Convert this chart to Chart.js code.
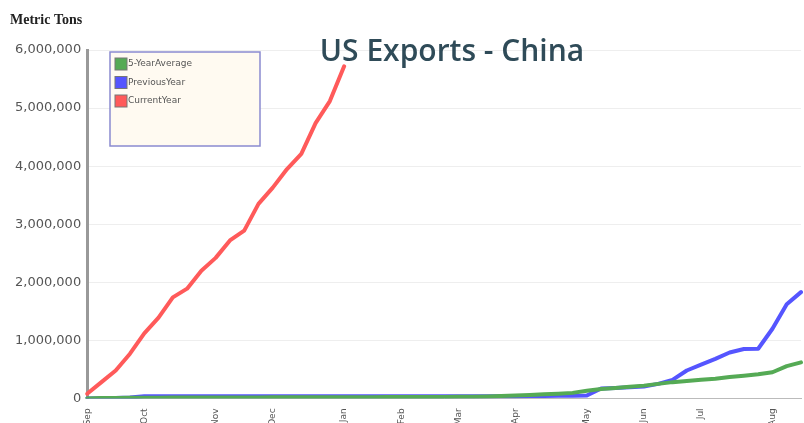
<!DOCTYPE html>
<html>
<head>
<meta charset="utf-8">
<script src="https://cdn.jsdelivr.net/npm/chart.js@4.4.1/dist/chart.umd.min.js"></script>
<style>
  body { margin: 0; background: #fff; }
  #wrap { width: 804px; height: 423px; position: relative; }
</style>
</head>
<body>
<div id="wrap"><canvas id="myChart"></canvas></div>
<script>
// months and the week index each one starts on
var months = ['Sep', 'Oct', 'Nov', 'Dec', 'Jan', 'Feb', 'Mar', 'Apr', 'May', 'Jun', 'Jul', 'Aug'];
var monthStartWeek = [0, 4, 9, 13, 18, 22, 26, 30, 35, 39, 43, 48];
var weekCount = 51;

// metric tons, one value per week
var fiveYearAverage = [
  0, 5000, 8000, 10000, 12000, 13000, 14000, 15000, 15000, 16000,
  16000, 17000, 17000, 18000, 18000, 19000, 19000, 20000, 20000, 21000,
  21000, 22000, 23000, 24000, 25000, 26000, 27000, 29000, 32000, 40000,
  50000, 60000, 70000, 80000, 95000, 130000, 160000, 180000, 200000, 220000,
  250000, 280000, 300000, 320000, 340000, 370000, 390000, 415000, 450000, 555000,
  620000
];
var previousYear = [
  0, 2000, 5000, 15000, 35000, 36000, 36000, 36000, 36000, 36000,
  36000, 36000, 36000, 36000, 36000, 36000, 36000, 36000, 36000, 36000,
  36000, 36000, 36000, 36000, 36000, 36000, 37000, 37000, 38000, 38000,
  39000, 40000, 42000, 44000, 46000, 50000, 170000, 180000, 190000, 205000,
  250000, 320000, 480000, 580000, 680000, 790000, 850000, 855000, 1200000, 1620000,
  1830000
];
var currentYear = [
  80000, 280000, 480000, 770000, 1120000, 1390000, 1740000, 1890000, 2200000, 2420000,
  2720000, 2890000, 3350000, 3630000, 3950000, 4210000, 4740000, 5120000, 5720000
];
var yTicks = [0, 1000000, 2000000, 3000000, 4000000, 5000000, 6000000];

// week labels: month name on the first week of the month
var weekLabels = [];
for (var i = 0; i < weekCount; i++) {
  var m = monthStartWeek.indexOf(i);
  weekLabels.push(m >= 0 ? months[m] : '');
}

// legend box in the top left of the plot + title + unit label
var extras = {
  id: 'extras',
  afterDraw: function(chart) {
    var ctx = chart.ctx;
    ctx.save();
    // unit label
    ctx.fillStyle = '#222';
    ctx.font = 'bold 14px "Liberation Serif"';
    ctx.textBaseline = 'alphabetic';
    ctx.textAlign = 'left';
    ctx.fillText('Metric Tons', 10, 24);

    // legend
    ctx.fillStyle = '#fffaf1';
    ctx.fillRect(110, 52, 150, 94);
    ctx.strokeStyle = '#8a8ad0';
    ctx.lineWidth = 1.5;
    ctx.strokeRect(110, 52, 150, 94);
    ctx.font = '9px "DejaVu Sans"';
    ctx.textBaseline = 'middle';
    chart.data.datasets.forEach(function(ds, k) {
      var y = 58 + k * 18.5;
      ctx.fillStyle = ds.borderColor;
      ctx.fillRect(115, y, 12, 12);
      ctx.strokeStyle = '#777';
      ctx.lineWidth = 1;
      ctx.strokeRect(115, y, 12, 12);
      ctx.fillStyle = '#555';
      ctx.fillText(ds.label, 128, y + 6);
    });

    // title
    ctx.fillStyle = '#2f4b58';
    ctx.font = '600 30px "Open Sans"';
    ctx.textAlign = 'center';
    ctx.textBaseline = 'middle';
    ctx.fillText('US Exports - China', 452, 52);
    ctx.restore();
  }
};

var ctx = document.getElementById('myChart');
var myChart = new Chart(ctx, {
  type: 'line',
  data: {
    labels: weekLabels,
    datasets: [
      { label: '5-YearAverage', data: fiveYearAverage, borderColor: 'rgb(85,170,85)' },
      { label: 'PreviousYear', data: previousYear, borderColor: 'rgb(85,85,255)' },
      { label: 'CurrentYear', data: currentYear, borderColor: 'rgb(255,90,90)' }
    ]
  },
  options: {
    responsive: true,
    maintainAspectRatio: false,
    animation: false,
    layout: { padding: { top: 50, left: 9, right: 3, bottom: -6 } },
    elements: {
      line: { borderWidth: 4, tension: 0, borderJoinStyle: 'round', borderCapStyle: 'round' },
      point: { radius: 0 }
    },
    plugins: {
      legend: { display: false },
      title: { display: false },
      tooltip: { enabled: false }
    },
    scales: {
      x: {
        grid: { display: false },
        border: { display: true, color: '#bbb', width: 1 },
        afterFit: function(scale) {
          // the plot runs right to the edge of the picture
          scale.paddingRight = 0;
          scale.paddingLeft = 0;
        },
        ticks: {
          autoSkip: false,
          maxRotation: 90,
          minRotation: 90,
          padding: 2,
          color: '#555',
          font: { family: 'DejaVu Sans', size: 9 },
          callback: function(val, idx) { return weekLabels[idx]; }
        }
      },
      y: {
        min: 0,
        max: 6000000,
        afterBuildTicks: function(scale) {
          scale.ticks = yTicks.map(function(v) { return { value: v }; });
        },
        grid: { color: '#eee', lineWidth: 1, drawTicks: false },
        border: { display: true, color: '#999', width: 3 },
        ticks: {
          padding: 6,
          color: '#555',
          font: { family: 'DejaVu Sans', size: 13 },
          callback: function(v) { return v.toLocaleString('en-US'); }
        }
      }
    }
  },
  plugins: [extras]
});
</script>
</body>
</html>
